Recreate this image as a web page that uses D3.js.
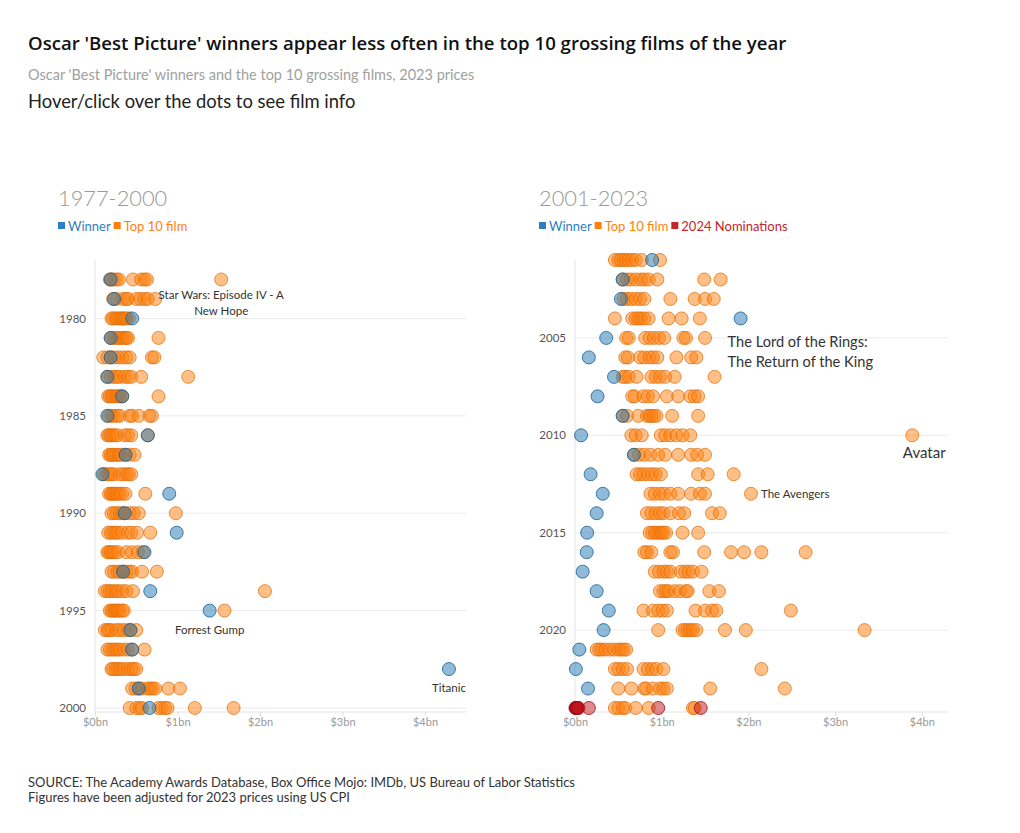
<!DOCTYPE html>
<html>
<head>
<meta charset="utf-8">
<script src="https://cdn.jsdelivr.net/npm/d3@7"></script>
<style>
  body { margin: 0; background: #fff; }
  svg text { font-family: Lato, "Open Sans", sans-serif; }
</style>
</head>
<body>
<svg id="chart" width="1020" height="833"></svg>
<script>
// ---------- DATA (values in $bn, 2023 prices) ----------
const yearsA = d3.range(1978, 2001);
const top10A = [
  [0.18, 0.2, 0.23, 0.26, 0.29, 0.46, 0.56, 0.6, 0.63, 1.53],
  [0.22, 0.26, 0.34, 0.38, 0.4, 0.5, 0.55, 0.6, 0.64, 0.73],
  [0.2, 0.22, 0.25, 0.27, 0.3, 0.32, 0.34, 0.36, 0.38, 0.41],
  [0.19, 0.22, 0.25, 0.28, 0.3, 0.33, 0.36, 0.38, 0.4, 0.77],
  [0.1, 0.15, 0.19, 0.24, 0.28, 0.33, 0.38, 0.42, 0.69, 0.72],
  [0.15, 0.19, 0.23, 0.27, 0.3, 0.36, 0.4, 0.44, 0.56, 1.13],
  [0.16, 0.18, 0.2, 0.22, 0.25, 0.27, 0.29, 0.31, 0.33, 0.77],
  [0.17, 0.2, 0.23, 0.27, 0.3, 0.42, 0.45, 0.53, 0.66, 0.69],
  [0.15, 0.17, 0.19, 0.21, 0.24, 0.27, 0.36, 0.4, 0.44, 0.64],
  [0.17, 0.19, 0.21, 0.23, 0.26, 0.29, 0.32, 0.37, 0.42, 0.48],
  [0.11, 0.14, 0.17, 0.2, 0.23, 0.3, 0.34, 0.38, 0.41, 0.44],
  [0.17, 0.19, 0.21, 0.23, 0.25, 0.27, 0.3, 0.33, 0.37, 0.61],
  [0.2, 0.23, 0.26, 0.3, 0.33, 0.36, 0.42, 0.47, 0.53, 0.98],
  [0.16, 0.19, 0.22, 0.25, 0.28, 0.33, 0.4, 0.44, 0.51, 0.67],
  [0.15, 0.17, 0.19, 0.21, 0.24, 0.28, 0.38, 0.45, 0.52, 0.58],
  [0.2, 0.23, 0.27, 0.3, 0.34, 0.38, 0.42, 0.45, 0.57, 0.75],
  [0.12, 0.15, 0.18, 0.21, 0.25, 0.28, 0.33, 0.38, 0.46, 2.06],
  [0.18, 0.2, 0.22, 0.24, 0.26, 0.28, 0.3, 0.33, 0.35, 1.57],
  [0.12, 0.15, 0.17, 0.2, 0.26, 0.3, 0.35, 0.4, 0.43, 0.5],
  [0.15, 0.18, 0.21, 0.24, 0.27, 0.3, 0.35, 0.4, 0.45, 0.6],
  [0.2, 0.22, 0.25, 0.28, 0.31, 0.35, 0.4, 0.44, 0.47, 0.5],
  [0.45, 0.49, 0.53, 0.57, 0.64, 0.67, 0.7, 0.73, 0.89, 1.03],
  [0.42, 0.5, 0.54, 0.57, 0.77, 0.81, 0.85, 0.88, 1.21, 1.68]
];
const winnersA = [0.19, 0.23, 0.45, 0.19, 0.19, 0.15, 0.33, 0.15, 0.64, 0.37, 0.09, 0.9,
  0.36, 0.99, 0.6, 0.34, 0.67, 1.39, 0.43, 0.45, 4.29, 0.53, 0.66];

const yearsB = d3.range(2001, 2024);
const top10B = [
  [0.46, 0.5, 0.53, 0.56, 0.59, 0.62, 0.66, 0.7, 0.77, 0.98],
  [0.55, 0.6, 0.64, 0.7, 0.76, 0.8, 0.85, 0.95, 1.49, 1.68],
  [0.56, 0.6, 0.65, 0.7, 0.75, 0.8, 1.1, 1.38, 1.5, 1.6],
  [0.46, 0.66, 0.7, 0.73, 0.76, 0.8, 0.85, 1.08, 1.23, 1.44],
  [0.59, 0.62, 0.81, 0.86, 0.91, 0.97, 1.03, 1.25, 1.28, 1.5],
  [0.58, 0.61, 0.75, 0.8, 0.86, 0.9, 0.95, 1.17, 1.34, 1.4],
  [0.55, 0.58, 0.62, 0.71, 0.88, 0.93, 0.98, 1.04, 1.15, 1.61],
  [0.66, 0.69, 0.79, 0.84, 0.9, 1.06, 1.19, 1.33, 1.38, 1.42],
  [0.55, 0.6, 0.73, 0.83, 0.86, 0.88, 0.91, 0.94, 1.12, 1.42],
  [0.65, 0.7, 0.77, 0.99, 1.04, 1.1, 1.17, 1.24, 1.33, 3.89],
  [0.68, 0.74, 0.8, 0.87, 0.96, 1.04, 1.19, 1.34, 1.41, 1.5],
  [0.71, 0.75, 0.79, 0.84, 0.89, 0.93, 0.99, 1.42, 1.53, 1.83],
  [0.87, 0.92, 0.98, 1.03, 1.1, 1.19, 1.34, 1.44, 1.5, 2.03],
  [0.83, 0.88, 0.93, 0.98, 1.02, 1.1, 1.2, 1.26, 1.58, 1.67],
  [0.86, 0.89, 0.92, 0.95, 0.98, 1.0, 1.02, 1.05, 1.24, 1.42],
  [0.8, 0.83, 0.88, 1.1, 1.13, 1.49, 1.8, 1.95, 2.15, 2.66],
  [0.92, 0.97, 1.02, 1.06, 1.1, 1.22, 1.27, 1.31, 1.36, 1.46],
  [0.98, 1.02, 1.05, 1.08, 1.15, 1.21, 1.28, 1.3, 1.55, 1.66],
  [0.79, 0.9, 0.96, 1.01, 1.06, 1.39, 1.5, 1.58, 1.63, 2.49],
  [0.96, 1.24, 1.27, 1.3, 1.33, 1.36, 1.4, 1.73, 1.97, 3.34],
  [0.25, 0.28, 0.31, 0.35, 0.4, 0.45, 0.5, 0.53, 0.56, 0.59],
  [0.46, 0.5, 0.55, 0.6, 0.79, 0.84, 0.89, 0.94, 1.02, 2.15],
  [0.5, 0.65, 0.8, 0.82, 0.9, 0.98, 1.02, 1.06, 1.56, 2.42]
];
const winnersB = [0.89, 0.55, 0.53, 1.91, 0.36, 0.16, 0.45, 0.26, 0.55, 0.07, 0.68, 0.18,
  0.32, 0.25, 0.14, 0.135, 0.088, 0.25, 0.39, 0.33, 0.05, 0.01, 0.15];

// 2024 row (films of 2023): remaining top grossers and Best Picture nominees
const year2024 = 2024;
const top10_2024 = [0.46, 0.5, 0.55, 0.58, 0.7, 0.85, 1.36, 1.38];
const nominations2024 = [0.005, 0.01, 0.015, 0.02, 0.025, 0.03, 0.04, 0.16, 0.96, 1.45];

const xTicks = [0, 1, 2, 3, 4];
const yTicksA = [1980, 1985, 1990, 1995, 2000];
const yTicksB = [2005, 2010, 2015, 2020];

// ---------- STYLE ----------
const C = {
  orange: "#ff7f0e", orangeStroke: "#e0700b",
  blue: "#1f77b4", blueStroke: "#1a5f92",
  red: "#c0141b", redStroke: "#9e1016",
  grid: "#ebebeb", axis: "#e3e3e3", tick: "#555", xtick: "#9a9a9a"
};
const R = 6.5;
const OS = "'Open Sans', Lato, sans-serif";

const svg = d3.select("#chart");

// header
svg.append("text").attr("x", 28).attr("y", 50)
  .attr("font-size", 18.6).attr("font-weight", 600).attr("fill", "#111").style("font-family", OS)
  .text("Oscar 'Best Picture' winners appear less often in the top 10 grossing films of the year");
svg.append("text").attr("x", 28).attr("y", 80)
  .attr("font-size", 14.5).attr("fill", "#a0a0a0")
  .text("Oscar 'Best Picture' winners and the top 10 grossing films, 2023 prices");
svg.append("text").attr("x", 28).attr("y", 108)
  .attr("font-size", 18.4).attr("fill", "#222")
  .text("Hover/click over the dots to see film info");

// footer
svg.append("text").attr("x", 28).attr("y", 787)
  .attr("font-size", 13).attr("fill", "#333")
  .text("SOURCE: The Academy Awards Database, Box Office Mojo: IMDb, US Bureau of Labor Statistics");
svg.append("text").attr("x", 28).attr("y", 802)
  .attr("font-size", 13).attr("fill", "#333")
  .text("Figures have been adjusted for 2023 prices using US CPI");

function panel(cfg) {
  const g = svg.append("g");
  const x = d3.scaleLinear().domain([0, 4]).range([cfg.x0, cfg.x0 + cfg.pxPerBn * 4]);
  const y = d3.scaleLinear().domain(cfg.yDomain).range([260, 708]);

  // title + legend
  g.append("text").attr("x", cfg.titleX).attr("y", 206)
    .attr("font-size", 21.8).attr("font-weight", 300).attr("fill", "#999").text(cfg.title);
  let lx = cfg.titleX;
  cfg.legend.forEach(l => {
    g.append("rect").attr("x", lx).attr("y", 222).attr("width", 7).attr("height", 7).attr("fill", l.c);
    const t = g.append("text").attr("x", lx + 10).attr("y", 231)
      .attr("font-size", 13).attr("fill", l.c).text(l.t);
    lx += 10 + t.node().getComputedTextLength() + 3;
  });

  // gridlines
  g.append("g").selectAll("line").data(cfg.yTicks).join("line")
    .attr("x1", cfg.x0).attr("x2", cfg.xEnd)
    .attr("y1", d => y(d)).attr("y2", d => y(d))
    .attr("stroke", C.grid).attr("stroke-width", 1);

  // y axis
  const ya = g.append("g").attr("transform", `translate(${cfg.x0},0)`)
    .call(d3.axisLeft(y).tickValues(cfg.yTicks).tickFormat(d3.format("d")).tickSize(0).tickPadding(9));
  ya.select(".domain").attr("stroke", C.axis).attr("d", `M0,260V712`);
  ya.selectAll("text").attr("font-size", 11.5).attr("fill", C.tick)
    .style("font-family", "Lato, 'Open Sans', sans-serif");

  // x axis
  const xa = g.append("g").attr("transform", "translate(0,712)")
    .call(d3.axisBottom(x).tickValues(xTicks).tickFormat(d => `$${d}bn`).tickSize(4).tickPadding(2));
  xa.select(".domain").attr("stroke", C.axis).attr("d", `M${cfg.x0},0H${cfg.xEnd}`);
  xa.selectAll("line").attr("stroke", "#ddd");
  xa.selectAll("text").attr("font-size", 11).attr("fill", C.xtick)
    .style("font-family", "Lato, 'Open Sans', sans-serif");

  // data points
  const topPts = [];
  cfg.years.forEach((yr, i) => cfg.top[i].forEach(v => topPts.push({ yr, v })));
  (cfg.extraTop || []).forEach(p => topPts.push(p));
  g.append("g").selectAll("circle").data(topPts).join("circle")
    .attr("cx", d => x(d.v)).attr("cy", d => y(d.yr)).attr("r", R)
    .attr("fill", C.orange).attr("fill-opacity", 0.5)
    .attr("stroke", C.orangeStroke).attr("stroke-opacity", 0.75).attr("stroke-width", 1);

  const winPts = cfg.years.map((yr, i) => ({ yr, v: cfg.win[i] }));
  g.append("g").selectAll("circle").data(winPts).join("circle")
    .attr("cx", d => x(d.v)).attr("cy", d => y(d.yr)).attr("r", R)
    .attr("fill", C.blue).attr("fill-opacity", 0.5)
    .attr("stroke", C.blueStroke).attr("stroke-opacity", 0.8).attr("stroke-width", 1);

  if (cfg.noms) {
    g.append("g").selectAll("circle").data(cfg.noms).join("circle")
      .attr("cx", d => x(d.v)).attr("cy", d => y(d.yr)).attr("r", R)
      .attr("fill", C.red).attr("fill-opacity", 0.5)
      .attr("stroke", C.redStroke).attr("stroke-opacity", 0.8).attr("stroke-width", 1);
  }

  // annotations
  cfg.notes.forEach(n => {
    const px = x(n.v), py = y(n.yr);
    const t = g.append("text").attr("x", px + n.dx).attr("y", py + n.dy)
      .attr("font-size", n.fs).attr("fill", "#333").attr("text-anchor", n.anchor);
    n.lines.forEach((ln, k) => t.append("tspan").attr("x", px + n.dx).attr("dy", k === 0 ? 0 : n.lh).text(ln));
  });
}

panel({
  title: "1977-2000", titleX: 58,
  x0: 95, pxPerBn: 82.5, xEnd: 466,
  yDomain: [1977, 2000], yTicks: yTicksA,
  years: yearsA, top: top10A, win: winnersA,
  legend: [{ t: "Winner", c: "#2e7fc0" }, { t: "Top 10 film", c: "#ff7f0e" }],
  notes: [
    { v: 1.53, yr: 1978, dx: 0, dy: 20, fs: 11.5, anchor: "middle", lh: 16,
      lines: ["Star Wars: Episode IV - A", "New Hope"] },
    { v: 1.39, yr: 1995, dx: 0, dy: 23, fs: 11.5, anchor: "middle", lh: 16, lines: ["Forrest Gump"] },
    { v: 4.29, yr: 1998, dx: 0, dy: 23, fs: 11.5, anchor: "middle", lh: 16, lines: ["Titanic"] }
  ]
});

panel({
  title: "2001-2023", titleX: 539,
  x0: 575, pxPerBn: 86.7, xEnd: 948,
  yDomain: [2001, 2024], yTicks: yTicksB,
  years: yearsB, top: top10B, win: winnersB,
  extraTop: top10_2024.map(v => ({ yr: year2024, v })),
  noms: nominations2024.map(v => ({ yr: year2024, v })),
  legend: [{ t: "Winner", c: "#2e7fc0" }, { t: "Top 10 film", c: "#ff7f0e" }, { t: "2024 Nominations", c: "#c4242b" }],
  notes: [
    { v: 1.91, yr: 2004, dx: -13, dy: 29, fs: 14.6, anchor: "start", lh: 20,
      lines: ["The Lord of the Rings:", "The Return of the King"] },
    { v: 3.89, yr: 2010, dx: 12, dy: 23, fs: 15, anchor: "middle", lh: 20, lines: ["Avatar"] },
    { v: 2.03, yr: 2013, dx: 10, dy: 4, fs: 11.5, anchor: "start", lh: 16, lines: ["The Avengers"] }
  ]
});
</script>
</body>
</html>
